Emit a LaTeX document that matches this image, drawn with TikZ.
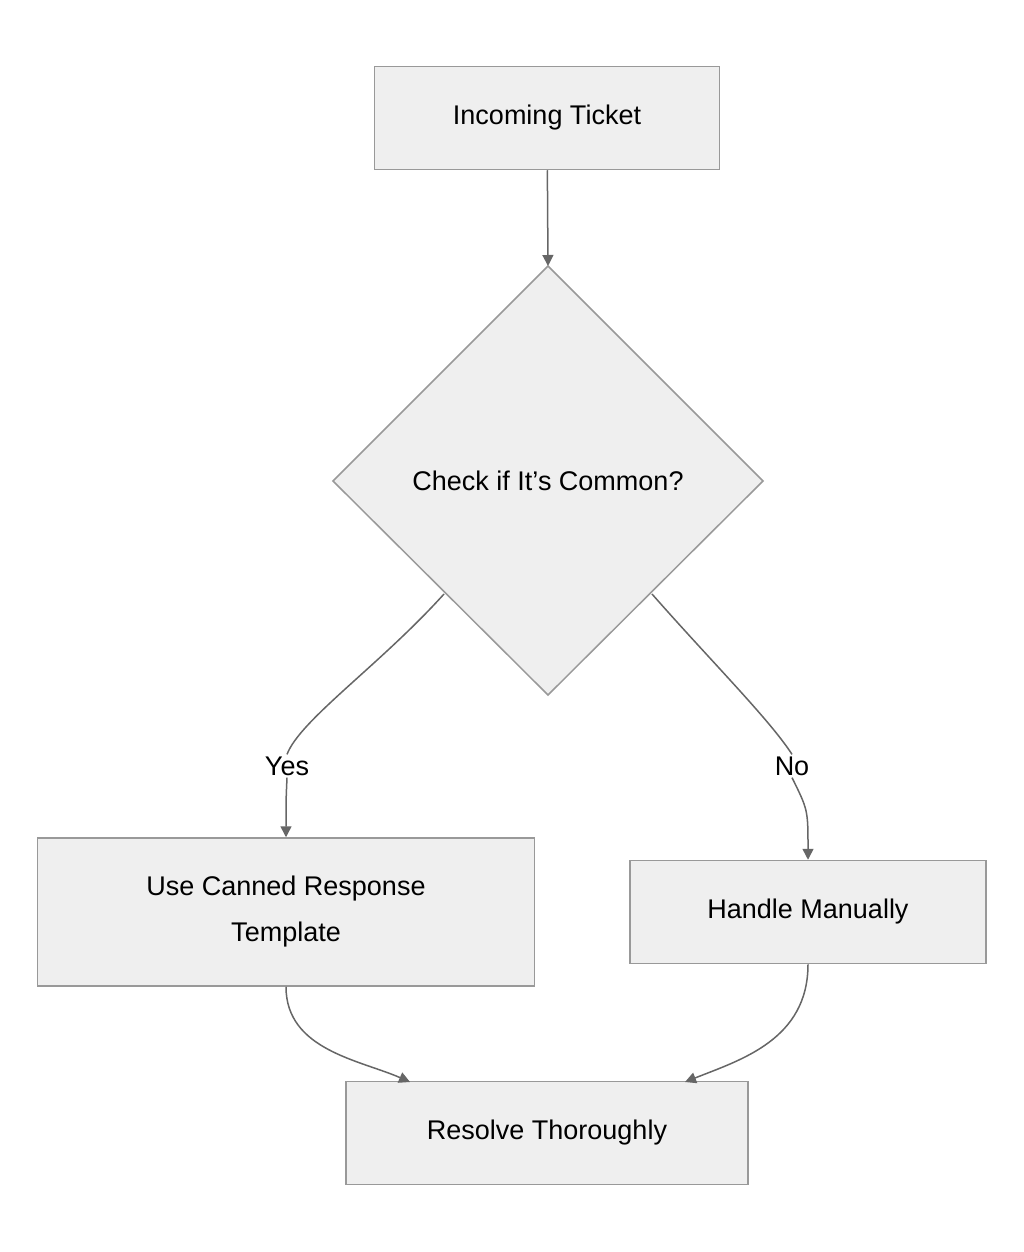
\documentclass[tikz,border=0pt]{standalone}
\usepackage{fontspec}
\setmainfont{Liberation Sans}
\usetikzlibrary{shapes.geometric,arrows.meta}
\definecolor{nfill}{HTML}{EFEFEF}
\definecolor{nline}{HTML}{999999}
\definecolor{eline}{HTML}{666666}
\begin{document}
\begin{tikzpicture}[x=1pt,y=-1pt,
  box/.style={draw=nline,fill=nfill,line width=1.5pt,inner sep=0pt,align=center,font=\fontsize{27}{46}\selectfont},
  edge/.style={draw=eline,line width=1.5pt,-{Triangle[length=11pt,width=11pt]}},
  lbl/.style={font=\fontsize{27}{32}\selectfont,fill=white,inner sep=2pt}]
\useasboundingbox (0,0) rectangle (1024,1252);
\node[box,minimum width=345pt,minimum height=103pt] (a) at (547,118) {Incoming Ticket};
\draw[draw=nline,fill=nfill,line width=1.5pt] (548,266) coordinate (dt) -- (763,481) -- (548,695) -- (333,481) -- cycle;
\node[font=\fontsize{27}{32}\selectfont] (d) at (548,481) {Check if It's Common?};
\coordinate (dl) at (444,594);
\coordinate (dr) at (652,594);
\node[box,minimum width=497pt,minimum height=148pt] (c) at (286,912) {Use Canned Response\\Template};
\node[box,minimum width=356pt,minimum height=103pt] (m) at (808,912) {Handle Manually};
\node[box,minimum width=402pt,minimum height=103pt] (r) at (547,1133) {Resolve Thoroughly};
\draw[edge] (a) -- (dt);
\node[lbl] (y) at (287,766) {Yes};
\node[lbl] (n) at (792,766) {No};
\draw[draw=eline,line width=1.5pt] (dl) .. controls (380,665) and (300,720) .. (y.north);
\draw[edge] (y.south) .. controls (286,800) .. (c.north);
\draw[draw=eline,line width=1.5pt] (dr) .. controls (710,660) and (770,720) .. (n.north);
\draw[edge] (n.south) .. controls (808,810) .. (m.north);
\draw[edge] (c.south) .. controls (286,1050) and (360,1060) .. (410,1082);
\draw[edge] (m.south) .. controls (808,1040) and (740,1060) .. (685,1082);
\end{tikzpicture}
\end{document}
